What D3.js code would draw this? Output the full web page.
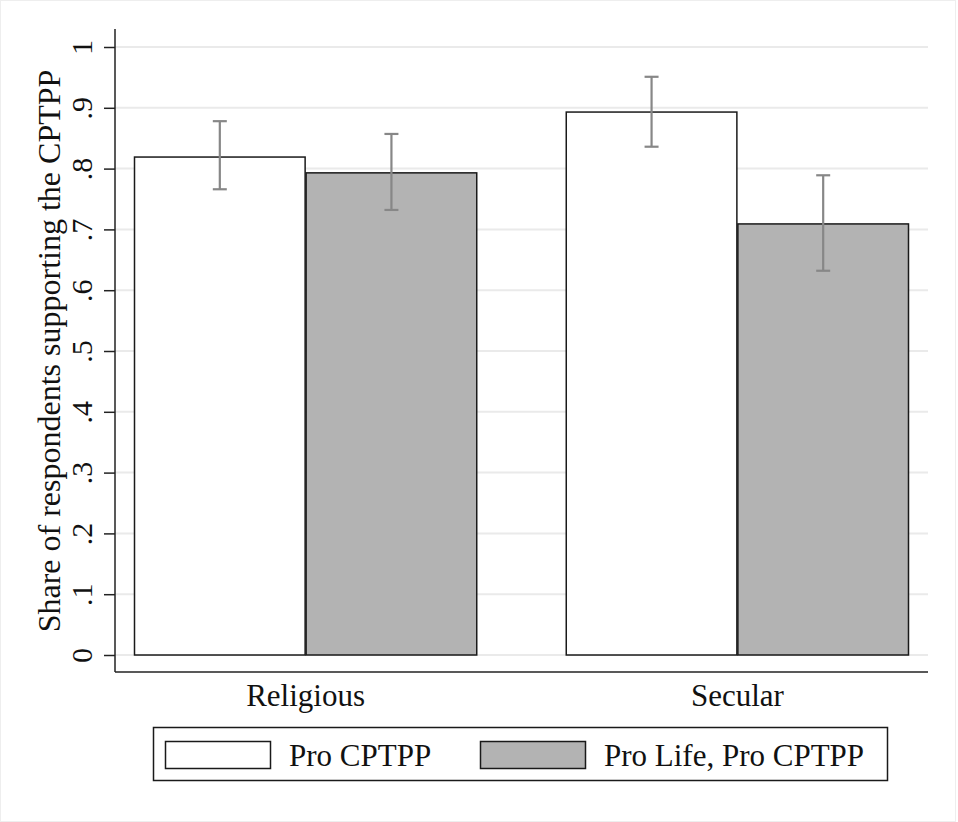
<!DOCTYPE html>
<html>
<head>
<meta charset="utf-8">
<script src="https://cdn.jsdelivr.net/npm/d3@7"></script>
<style>
  body { margin: 0; background: #fff; }
  text { font-family: "Liberation Serif", "Times New Roman", serif; }
</style>
</head>
<body>
<div id="graph"></div>
<script>
// data
var groups = ["Religious", "Secular"];
var series = ["Pro CPTPP", "Pro Life, Pro CPTPP"];
var seriesFill = ["#ffffff", "#b3b3b3"];
var religiousVals = [0.819, 0.793];
var secularVals = [0.893, 0.709];
var religiousLo = [0.766, 0.732];
var religiousHi = [0.878, 0.857];
var secularLo = [0.836, 0.632];
var secularHi = [0.951, 0.789];
var yTicks = [0, .1, .2, .3, .4, .5, .6, .7, .8, .9, 1];

var rows = [];
groups.forEach(function(g, gi) {
    var vals = gi == 0 ? religiousVals : secularVals;
    var lo = gi == 0 ? religiousLo : secularLo;
    var hi = gi == 0 ? religiousHi : secularHi;
    series.forEach(function(s, si) {
        rows.push({ group: g, series: s, si: si, value: vals[si], lo: lo[si], hi: hi[si] });
    });
});

var W = 958, H = 822;
var plotLeft = 115, plotRight = 928, plotTop = 29, zeroY = 655, oneY = 47, baseY = 672;

var svg = d3.select('#graph').append('svg')
    .attr('width', W)
    .attr('height', H)
    .style('background', '#fff');

// faint outer frame
svg.append("rect")
    .attr("x", 0.5).attr("y", 0.5)
    .attr("width", W - 3).attr("height", H - 1)
    .style("fill", "none")
    .style("stroke", "#eeeeee")
    .style("stroke-width", 1);

var y = d3.scaleLinear()
    .domain([0, 1])
    .range([zeroY, oneY]);

var x = d3.scaleBand()
    .domain(groups)
    .range([134, 909])
    .paddingInner(0.205)
    .paddingOuter(0);

var xs = d3.scaleBand()
    .domain(series)
    .range([0, x.bandwidth()])
    .padding(0);

// gridlines
svg.append("g")
    .selectAll("line")
    .data(yTicks)
    .enter()
    .append("line")
      .attr("x1", plotLeft)
      .attr("x2", plotRight)
      .attr("y1", function(d){ return y(d) })
      .attr("y2", function(d){ return y(d) })
      .style("stroke", "#eaeaea")
      .style("stroke-width", 2);

// y axis
var yAxis = svg.append("g")
    .attr("transform", "translate(" + plotLeft + ",0)")
    .call(d3.axisLeft(y).tickValues(yTicks).tickSize(11)
        .tickFormat(function(d){ return d == 0 ? "0" : d == 1 ? "1" : d3.format(".1f")(d).replace(/^0/, "") }));
yAxis.select(".domain").remove();
yAxis.selectAll(".tick line").style("stroke", "#222").style("stroke-width", 1.5);
yAxis.selectAll(".tick text")
    .style("font-size", "30px")
    .style("fill", "#111")
    .attr("transform", "rotate(-90)")
    .attr("x", 0)
    .attr("y", -23)
    .attr("dy", null)
    .style("text-anchor", "middle");

// axis lines
svg.append("line")
    .attr("x1", plotLeft).attr("x2", plotLeft)
    .attr("y1", plotTop).attr("y2", baseY)
    .style("stroke", "#222").style("stroke-width", 1.5);
svg.append("line")
    .attr("x1", plotLeft).attr("x2", plotRight)
    .attr("y1", baseY).attr("y2", baseY)
    .style("stroke", "#222").style("stroke-width", 1.5);

// y title
svg.append("text")
    .attr("transform", "translate(60," + ((zeroY + oneY) / 2) + ") rotate(-90)")
    .attr("text-anchor", "middle")
    .style("font-size", "32px")
    .style("fill", "#111")
    .text("Share of respondents supporting the CPTPP");

// bars
svg.selectAll("rect.bar")
    .data(rows)
    .enter()
    .append("rect")
      .attr("class", "bar")
      .attr("x", function(d){ return x(d.group) + xs(d.series) + 0.5 })
      .attr("y", function(d){ return y(d.value) })
      .attr("width", xs.bandwidth() - 1)
      .attr("height", function(d){ return y(0) - y(d.value) })
      .style("fill", function(d){ return seriesFill[d.si] })
      .style("stroke", "#1a1a1a")
      .style("stroke-width", 1.5);

// error bars
var eb = svg.selectAll("g.err")
    .data(rows)
    .enter()
    .append("g")
      .attr("class", "err")
      .style("stroke", "#878787")
      .style("stroke-width", 2.2);
function cx(d){ return x(d.group) + xs(d.series) + xs.bandwidth() / 2 }
eb.append("line")
    .attr("x1", cx).attr("x2", cx)
    .attr("y1", function(d){ return y(d.lo) })
    .attr("y2", function(d){ return y(d.hi) });
eb.append("line")
    .attr("x1", function(d){ return cx(d) - 7 }).attr("x2", function(d){ return cx(d) + 7 })
    .attr("y1", function(d){ return y(d.lo) }).attr("y2", function(d){ return y(d.lo) });
eb.append("line")
    .attr("x1", function(d){ return cx(d) - 7 }).attr("x2", function(d){ return cx(d) + 7 })
    .attr("y1", function(d){ return y(d.hi) }).attr("y2", function(d){ return y(d.hi) });

// group labels
svg.selectAll("text.grp")
    .data(groups)
    .enter()
    .append("text")
      .attr("class", "grp")
      .attr("x", function(d){ return x(d) + x.bandwidth() / 2 })
      .attr("y", 706)
      .attr("text-anchor", "middle")
      .style("font-size", "31px")
      .style("fill", "#111")
      .text(function(d){ return d });

// legend
svg.append("rect")
    .attr("x", 153.5).attr("y", 727.5)
    .attr("width", 734).attr("height", 53)
    .style("fill", "#fff")
    .style("stroke", "#1a1a1a")
    .style("stroke-width", 1.5);
var legX = [165, 480];
var leg = svg.selectAll("g.leg")
    .data(series)
    .enter()
    .append("g")
      .attr("class", "leg")
      .attr("transform", function(d, i){ return "translate(" + legX[i] + ",741)" });
leg.append("rect")
    .attr("x", 0.5).attr("y", 0.5)
    .attr("width", 105).attr("height", 27)
    .style("fill", function(d, i){ return seriesFill[i] })
    .style("stroke", "#1a1a1a")
    .style("stroke-width", 1.5);
leg.append("text")
    .attr("x", 124)
    .attr("y", 25)
    .style("font-size", "31px")
    .style("fill", "#111")
    .text(function(d){ return d });
</script>
</body>
</html>
